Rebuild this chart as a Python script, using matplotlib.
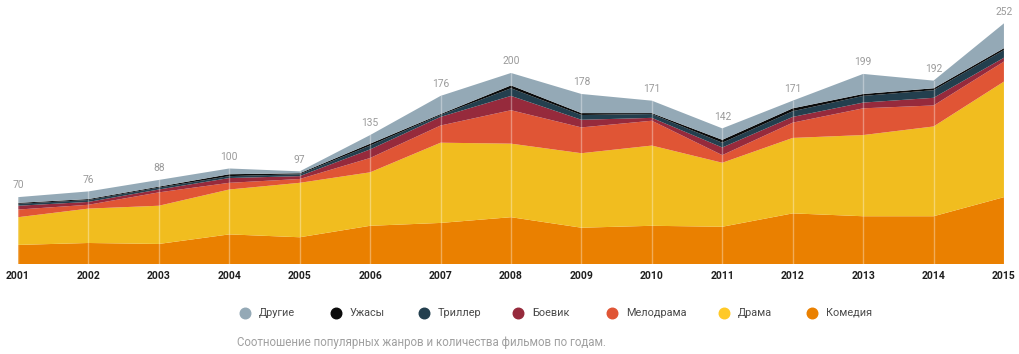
import matplotlib
matplotlib.use("Agg")
import matplotlib.pyplot as plt
from matplotlib.lines import Line2D
import numpy as np

years = [2001, 2002, 2003, 2004, 2005, 2006, 2007, 2008, 2009, 2010, 2011, 2012, 2013, 2014, 2015]

# stacked from bottom to top
comedy    = [20, 22, 21, 31, 28, 40, 43, 49, 38, 40, 39, 53, 50, 50, 70]
drama     = [29, 36, 40, 47, 57, 56, 84, 77, 78, 84, 67, 79, 85, 94, 121]
melodrama = [8, 4, 14, 7, 4, 15, 18, 35, 27, 26, 8, 16, 28, 22, 21]
action    = [4, 3, 3, 5, 3, 9, 9, 15, 8, 3, 8, 6, 6, 8, 4]
thriller  = [2, 2, 2, 2, 2, 4, 2, 8, 5, 4, 5, 6, 7, 8, 8]
horror    = [1, 1, 1, 2, 1, 2, 1, 3, 2, 1, 3, 3, 2, 2, 2]
others    = [6, 8, 7, 6, 2, 9, 19, 13, 20, 13, 12, 8, 21, 8, 26]

series_names = ["Комедия", "Драма", "Мелодрама", "Боевик", "Триллер", "Ужасы", "Другие"]
series_vals = [comedy, drama, melodrama, action, thriller, horror, others]
colors = ["#EA8000", "#F1BD1F", "#E05535", "#962A3C", "#233F4E", "#0B0B0B", "#94A9B6"]
legend_colors = ["#EA8000", "#FFC926", "#E05535", "#962A3C", "#233F4E", "#0B0B0B", "#94A9B6"]

caption = "Соотношение популярных жанров и количества фильмов по годам."

W, H = 1020, 354
fig = plt.figure(figsize=(W / 100, H / 100), dpi=100)
ax = fig.add_axes([18 / W, 90 / H, 986 / W, 264 / H])

ax.stackplot(years, *series_vals, colors=colors, linewidth=0)
totals = np.sum(np.array(series_vals), axis=0)

# vertical guide lines
for x, t in zip(years, totals):
    ax.plot([x, x], [0, t], color="white", alpha=0.35, lw=1, zorder=3)

# total labels
for x, t in zip(years, totals):
    ax.annotate(str(int(t)), (x, t), xytext=(0, 8.4), textcoords="offset points",
                ha="center", va="center", fontsize=7.4, color="#9a9a9a",
                family=["Roboto", "DejaVu Sans"])

ax.set_xlim(2001, 2015)
ax.set_ylim(0, 276.4)
for s in ax.spines.values():
    s.set_visible(False)
ax.set_yticks([])
ax.set_xticks(years)
ax.set_xticklabels([str(y) for y in years], fontsize=7.5, fontweight="bold",
                   family=["Roboto", "DejaVu Sans"], color="#1e1e1e")
ax.tick_params(axis="x", length=0, pad=5.2)
ax.set_facecolor("none")

# legend (manual, in reference order)
leg_order = [6, 5, 4, 3, 2, 1, 0]
text_starts = [259, 350, 438, 532, 626, 738, 826]
ly = 1 - 312.7 / H
for idx, tx in zip(leg_order, text_starts):
    cx = tx - 14
    fig.add_artist(Line2D([cx / W], [ly], marker="o", markersize=7.6,
                          color=legend_colors[idx], linestyle="none",
                          transform=fig.transFigure))
    fig.text(tx / W, ly, series_names[idx], ha="left", va="center", fontsize=7.8,
             color="#4a4a4a", family=["Roboto", "DejaVu Sans"])

fig.text(237 / W, 1 - 342.7 / H, caption, ha="left", va="center", fontsize=8.3,
         color="#a0a0a0", family=["Roboto", "DejaVu Sans"])

fig.savefig("out.png", dpi=100)
